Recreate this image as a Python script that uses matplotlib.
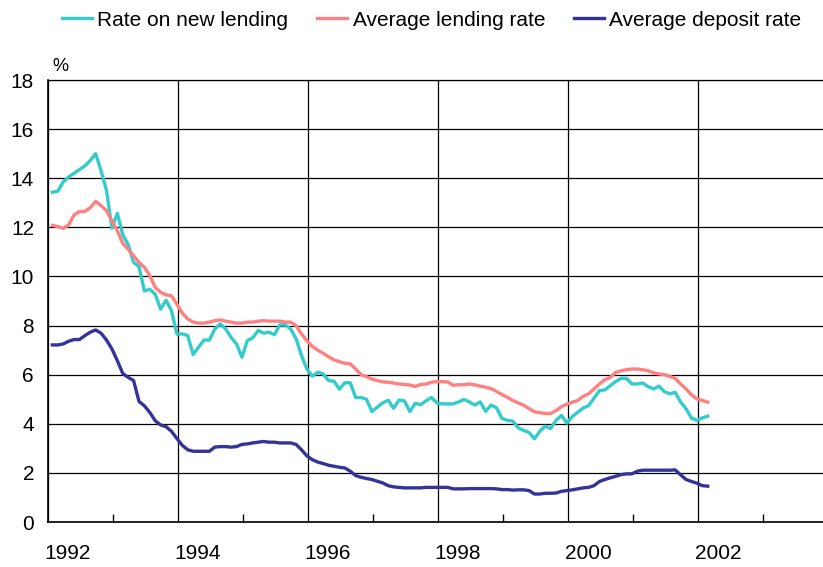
import numpy as np
import matplotlib
matplotlib.use('Agg')
import matplotlib.pyplot as plt
from matplotlib.transforms import ScaledTranslation

plt.rcParams['font.family'] = ['Liberation Sans', 'DejaVu Sans']

# monthly data, Jan 1992 - Feb 2002
new_lending = [
    13.43, 13.47, 13.85, 14.05, 14.2, 14.35, 14.5, 14.72, 15.0, 14.3, 13.5, 11.97,
    12.57, 11.7, 11.3, 10.57, 10.4, 9.41, 9.48, 9.27, 8.67, 9.03, 8.6, 7.65,
    7.66, 7.59, 6.82, 7.12, 7.41, 7.41, 7.86, 8.07, 7.86, 7.52, 7.25, 6.71,
    7.39, 7.5, 7.8, 7.69, 7.73, 7.63, 8.03, 8.03, 7.86, 7.46, 6.78, 6.23,
    5.94, 6.1, 6.03, 5.76, 5.73, 5.41, 5.67, 5.67, 5.07, 5.07, 5.0, 4.5,
    4.68, 4.85, 4.96, 4.63, 4.97, 4.93, 4.5, 4.83, 4.78, 4.94, 5.07, 4.85,
    4.81, 4.81, 4.81, 4.89, 4.99, 4.89, 4.76, 4.89, 4.51, 4.76, 4.65, 4.22,
    4.14, 4.11, 3.84, 3.73, 3.65, 3.39, 3.7, 3.9, 3.81, 4.14, 4.34, 4.03,
    4.3, 4.47, 4.64, 4.74, 5.04, 5.35, 5.38, 5.55, 5.72, 5.85, 5.85, 5.62,
    5.62, 5.66, 5.51, 5.42, 5.53, 5.31, 5.22, 5.28, 4.88, 4.61, 4.23, 4.14,
    4.24, 4.31,
]
avg_lending = [
    12.08, 12.03, 11.96, 12.1, 12.5, 12.64, 12.65, 12.8, 13.06, 12.88, 12.68, 12.27,
    11.86, 11.35, 11.1, 10.84, 10.57, 10.37, 10.03, 9.55, 9.35, 9.25, 9.21, 8.87,
    8.5, 8.27, 8.14, 8.1, 8.1, 8.14, 8.2, 8.23, 8.18, 8.14, 8.1, 8.1,
    8.14, 8.14, 8.18, 8.2, 8.18, 8.18, 8.18, 8.14, 8.14, 8.0, 7.66, 7.38,
    7.15, 7.0, 6.87, 6.73, 6.6, 6.53, 6.46, 6.44, 6.23, 6.0, 5.92, 5.82,
    5.76, 5.71, 5.69, 5.66, 5.62, 5.6, 5.58, 5.52, 5.6, 5.62, 5.69, 5.72,
    5.72, 5.7, 5.57, 5.59, 5.59, 5.62, 5.59, 5.53, 5.49, 5.43, 5.32, 5.19,
    5.08, 4.95, 4.85, 4.76, 4.62, 4.49, 4.45, 4.42, 4.42, 4.54, 4.7, 4.8,
    4.88, 4.95, 5.12, 5.22, 5.42, 5.62, 5.8, 5.89, 6.09, 6.16, 6.2, 6.23,
    6.23, 6.2, 6.16, 6.07, 6.03, 6.0, 5.93, 5.85, 5.62, 5.42, 5.18, 5.01,
    4.95, 4.88,
]
avg_deposit = [
    7.21, 7.21, 7.25, 7.36, 7.43, 7.43, 7.59, 7.73, 7.82, 7.69, 7.41, 7.05,
    6.57, 6.05, 5.89, 5.76, 4.91, 4.73, 4.46, 4.12, 3.95, 3.88, 3.69, 3.4,
    3.12, 2.94, 2.88, 2.88, 2.88, 2.88, 3.05, 3.07, 3.07, 3.05, 3.07, 3.16,
    3.18, 3.22, 3.25, 3.28, 3.25, 3.25, 3.22, 3.22, 3.22, 3.16, 2.94, 2.69,
    2.54, 2.44, 2.38, 2.31, 2.27, 2.23, 2.2, 2.07, 1.89, 1.82, 1.77, 1.73,
    1.66, 1.59, 1.48, 1.43, 1.41, 1.39, 1.39, 1.39, 1.39, 1.41, 1.41, 1.41,
    1.41, 1.41, 1.35, 1.35, 1.35, 1.36, 1.36, 1.36, 1.36, 1.36, 1.35, 1.32,
    1.32, 1.3, 1.31, 1.31, 1.28, 1.14, 1.14, 1.17, 1.17, 1.18, 1.25, 1.28,
    1.31, 1.35, 1.39, 1.41, 1.48, 1.65, 1.73, 1.8, 1.86, 1.93, 1.96, 1.96,
    2.07, 2.11, 2.11, 2.11, 2.11, 2.11, 2.11, 2.12, 1.92, 1.73, 1.65, 1.58,
    1.48, 1.46,
]
year_labels = ['1992', '1994', '1996', '1998', '2000', '2002']

months = np.arange(len(new_lending))
x = 1992 + (months + 0.8) / 12

fig = plt.figure(figsize=(8.23, 5.67), dpi=100)
ax = fig.add_axes([48 / 823, 1 - 522 / 567, 780 / 823, 442 / 567])

ax.plot(x, new_lending, color='#33CCCC', lw=2.4, label='Rate on new lending')
ax.plot(x, avg_lending, color='#FF8080', lw=2.4, label='Average lending rate')
ax.plot(x, avg_deposit, color='#333399', lw=2.4, label='Average deposit rate')

ax.set_xlim(1992, 2004)
ax.set_ylim(0, 18)
ax.set_yticks(range(0, 19, 2))
major = [int(y) for y in year_labels]
ax.set_xticks(major)
ax.set_xticklabels(year_labels)
ax.set_xticks([y + 1 for y in major], minor=True)
ax.tick_params(axis='x', which='major', length=0, pad=16, labelsize=15)
ax.tick_params(axis='x', which='minor', direction='in', length=6, width=1)
ax.tick_params(axis='y', length=0, pad=10, labelsize=15)
shift = ScaledTranslation(0.2, 0, fig.dpi_scale_trans)
for lab in ax.get_xticklabels():
    lab.set_transform(lab.get_transform() + shift)

ax.grid(True, color='black', lw=0.9)
ax.set_axisbelow(True)
for side in ['left', 'bottom']:
    ax.spines[side].set_linewidth(1.2)
ax.spines['right'].set_visible(False)
ax.spines['top'].set_linewidth(0.9)

ax.text(0.005, 1.012, '%', transform=ax.transAxes, fontsize=13, ha='left', va='bottom')

fig.legend(loc='upper left', bbox_to_anchor=(62 / 823, 0.981), ncol=3, frameon=False,
           fontsize=15, borderpad=0, borderaxespad=0, handlelength=1.45,
           handletextpad=0.25, columnspacing=1.38)

fig.savefig('out.png', dpi=100)
